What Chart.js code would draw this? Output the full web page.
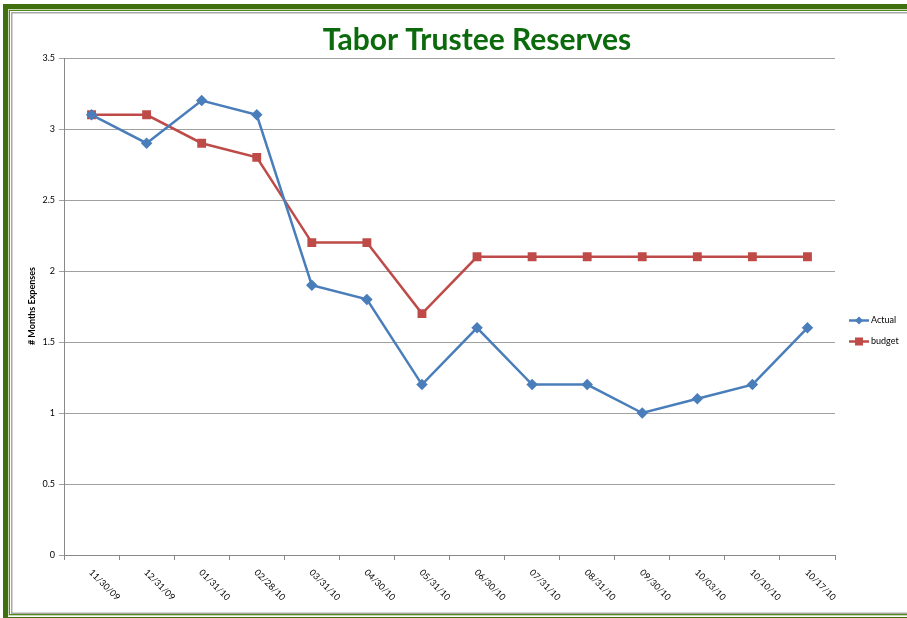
<!DOCTYPE html>
<html>
<head>
<meta charset="utf-8">
<style>
html,body{margin:0;padding:0;background:#fff;}
#wrap{position:relative;width:907px;height:618px;}
</style>
<script src="https://cdn.jsdelivr.net/npm/chart.js@4"></script>
</head>
<body>
<div id="wrap"><canvas id="c" width="907" height="618"></canvas></div>
<script>
const categories = ['11/30/09','12/31/09','01/31/10','02/28/10','03/31/10','04/30/10','05/31/10','06/30/10','07/31/10','08/31/10','09/30/10','10/03/10','10/10/10','10/17/10'];
const actual = [3.1, 2.9, 3.2, 3.1, 1.9, 1.8, 1.2, 1.6, 1.2, 1.2, 1.0, 1.1, 1.2, 1.6];
const budget = [3.1, 3.1, 2.9, 2.8, 2.2, 2.2, 1.7, 2.1, 2.1, 2.1, 2.1, 2.1, 2.1, 2.1];
const yTicks = [0, 0.5, 1, 1.5, 2, 2.5, 3, 3.5];
const titleText = 'Tabor Trustee Reserves';
const yTitle = '# Months Expenses';

const FONT = 'Lato, "Open Sans", sans-serif';
const BLUE = '#4A7EBB';
const RED = '#BE4B48';

const framePlugin = {
  id: 'frame',
  beforeDraw(chart) {
    const ctx = chart.ctx;
    ctx.save();
    ctx.fillStyle = '#fff';
    ctx.fillRect(0, 0, chart.width, chart.height);
    ctx.strokeStyle = '#3F6F0E';
    ctx.lineWidth = 5;
    ctx.strokeRect(5.5, 6.5, 920, 613);
    ctx.strokeStyle = '#C9DAB4';
    ctx.lineWidth = 1;
    ctx.strokeRect(8.5, 9.5, 920, 606);
    ctx.strokeStyle = '#4E8A1A';
    ctx.strokeRect(9.5, 10.5, 920, 604);
    ctx.strokeStyle = '#A8A8A8';
    ctx.lineWidth = 1.5;
    ctx.strokeRect(11.75, 12.75, 920, 600.5);
    ctx.restore();
  },
  afterDraw(chart) {
    const ctx = chart.ctx;
    const xs = chart.scales.x;
    const ys = chart.scales.y;
    ctx.save();
    ctx.fillStyle = '#0B6A0B';
    ctx.font = 'bold 30px ' + FONT;
    ctx.textAlign = 'center';
    ctx.textBaseline = 'middle';
    ctx.fillText(titleText, 477, 40);
    ctx.save();
    ctx.translate(32, 306);
    ctx.rotate(-Math.PI / 2);
    ctx.fillStyle = '#000';
    ctx.font = 'bold 9px ' + FONT;
    ctx.fillText(yTitle, 0, 0);
    ctx.restore();
    ctx.fillStyle = '#000';
    ctx.font = '9px ' + FONT;
    ctx.textAlign = 'left';
    ctx.textBaseline = 'middle';
    categories.forEach((lab, i) => {
      const px = xs.getPixelForTick(i);
      ctx.save();
      ctx.translate(px - 1, ys.bottom + 16);
      ctx.rotate(Math.PI / 4);
      ctx.fillText(lab, 0, 0);
      ctx.restore();
    });
    const items = [{t: 'Actual', c: BLUE, s: 'diamond'}, {t: 'budget', c: RED, s: 'square'}];
    items.forEach((it, k) => {
      const y = 320.5 + k * 21;
      ctx.strokeStyle = it.c;
      ctx.lineWidth = 2.5;
      ctx.beginPath();
      ctx.moveTo(849, y);
      ctx.lineTo(869, y);
      ctx.stroke();
      ctx.fillStyle = it.c;
      if (it.s === 'diamond') {
        ctx.beginPath();
        ctx.moveTo(859, y - 4); ctx.lineTo(863, y); ctx.lineTo(859, y + 4); ctx.lineTo(855, y);
        ctx.closePath(); ctx.fill();
      } else {
        ctx.fillRect(855, y - 4, 8, 8);
      }
      ctx.fillStyle = '#000';
      ctx.font = '9px ' + FONT;
      ctx.textAlign = 'left';
      ctx.textBaseline = 'middle';
      ctx.fillText(it.t, 871, y);
    });
    ctx.restore();
  }
};

new Chart(document.getElementById('c'), {
  type: 'line',
  data: {
    labels: categories,
    datasets: [
      {label: 'Actual', data: actual, borderColor: BLUE, backgroundColor: BLUE, borderWidth: 2.5,
       pointStyle: 'rectRot', pointRadius: 4, pointHoverRadius: 4, tension: 0, order: 1},
      {label: 'budget', data: budget, borderColor: RED, backgroundColor: RED, borderWidth: 2.5,
       pointStyle: 'rect', pointRadius: 4.5, pointHoverRadius: 4.5, tension: 0, order: 2}
    ]
  },
  options: {
    responsive: false,
    animation: false,
    devicePixelRatio: 1,
    layout: {padding: {left: 0, top: 58, right: 72, bottom: 63}},
    plugins: {legend: {display: false}, title: {display: false}, tooltip: {enabled: false}},
    scales: {
      x: {
        type: 'category',
        offset: true,
        grid: {display: true, drawOnChartArea: false, drawTicks: true, tickLength: 5, offset: true, color: '#888', lineWidth: 1},
        border: {display: true, color: '#888', width: 1},
        ticks: {display: false},
        afterFit(s) { s.height = 0; }
      },
      y: {
        min: 0, max: 3.5,
        afterBuildTicks(s) { s.ticks = yTicks.map(v => ({value: v})); },
        grid: {color: '#A0A0A0', lineWidth: 1, drawTicks: true, tickLength: 5},
        border: {display: true, color: '#888', width: 1},
        ticks: {font: {family: FONT, size: 9}, color: '#000', padding: 4,
                callback: v => String(v)},
        afterFit(s) { s.width = 64; }
      }
    }
  },
  plugins: [framePlugin]
});
</script>
</body>
</html>
